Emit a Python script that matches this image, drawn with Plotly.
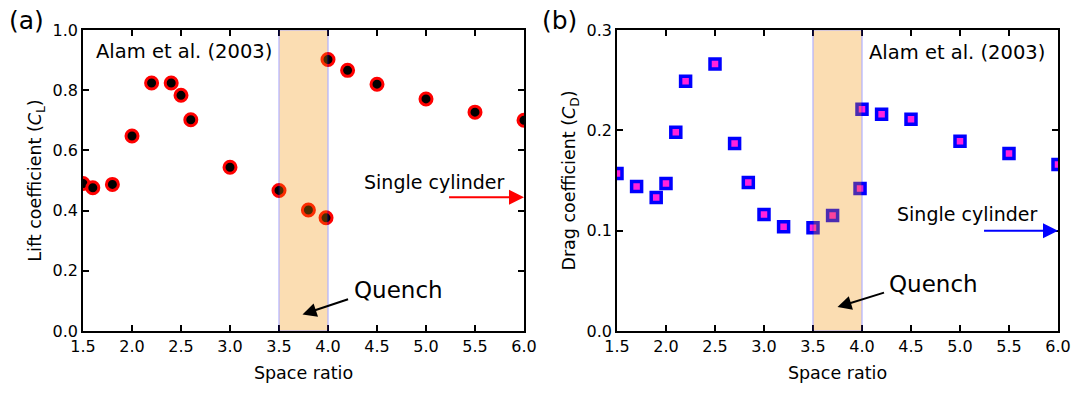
import plotly.graph_objects as go
from plotly.subplots import make_subplots

# ---- data ----
lift_x = [1.5, 1.6, 1.8, 2.0, 2.2, 2.4, 2.5, 2.6, 3.0, 3.5, 3.8, 3.98, 4.0, 4.2, 4.5, 5.0, 5.5, 6.0]
lift_y = [0.49, 0.476, 0.487, 0.648, 0.824, 0.824, 0.783, 0.702, 0.544, 0.467, 0.402, 0.376, 0.902, 0.866, 0.82, 0.771, 0.727, 0.70]

drag_x = [1.5, 1.7, 1.9, 2.0, 2.1, 2.2, 2.5, 2.7, 2.84, 3.0, 3.2, 3.5, 3.7, 3.98, 4.0, 4.2, 4.5, 5.0, 5.5, 6.0]
drag_y = [0.157, 0.144, 0.133, 0.147, 0.198, 0.249, 0.266, 0.187, 0.148, 0.116, 0.104, 0.103, 0.115, 0.142, 0.221, 0.216, 0.211, 0.189, 0.177, 0.166]

x_ticks = [1.5, 2.0, 2.5, 3.0, 3.5, 4.0, 4.5, 5.0, 5.5, 6.0]
lift_ticks = [0.0, 0.2, 0.4, 0.6, 0.8, 1.0]
drag_ticks = [0.0, 0.1, 0.2, 0.3]
quench_range = [3.5, 4.0]

FONT = "DejaVu Sans, Verdana, sans-serif"
W, H = 1074, 395

fig = make_subplots(rows=1, cols=2)

fig.add_trace(go.Scatter(
    x=lift_x, y=lift_y, mode="markers",
    marker=dict(symbol="circle", size=12, color="black", line=dict(color="#FF0000", width=3)),
    showlegend=False), row=1, col=1)

fig.add_trace(go.Scatter(
    x=drag_x, y=drag_y, mode="markers",
    marker=dict(symbol="square", size=10, color="#FF22DD", line=dict(color="#0000FF", width=3.5)),
    showlegend=False), row=1, col=2)

# quench bands (drawn above the markers, semi-transparent)
for xr, yr, ytop in (("x", "y", 1.0), ("x2", "y2", 0.3)):
    fig.add_shape(type="rect", xref=xr, yref=yr, x0=quench_range[0], x1=quench_range[1],
                  y0=0, y1=ytop, fillcolor="rgb(245,145,5)",
                  line=dict(color="#0000FF", width=1.2), opacity=0.3, layer="above")

axis_common = dict(showline=True, linecolor="black", linewidth=1.5, mirror="ticks",
                   ticks="inside", ticklen=6, tickwidth=1.5, tickcolor="black",
                   showgrid=False, zeroline=False, ticklabeloverflow="allow",
                   tickfont=dict(family=FONT, size=16, color="black"), automargin=False)

x_dom1 = [83 / W, 524 / W]
x_dom2 = [617 / W, 1058 / W]
y_dom = [(H - 331) / H, (H - 30) / H]
title_font = dict(family=FONT, size=17.5, color="black")

fig.update_layout(
    width=W, height=H, template="none",
    paper_bgcolor="white", plot_bgcolor="white",
    margin=dict(l=0, r=0, t=0, b=0),
    font=dict(family=FONT, size=17, color="black"),
    xaxis=dict(axis_common, domain=x_dom1, range=[1.5, 6.0], tickvals=x_ticks,
               ticktext=[f"{v:.1f}" for v in x_ticks],
               title=dict(text="Space ratio", font=title_font, standoff=12)),
    xaxis2=dict(axis_common, domain=x_dom2, range=[1.5, 6.0], tickvals=x_ticks,
                ticktext=[f"{v:.1f}" for v in x_ticks],
                title=dict(text="Space ratio", font=title_font, standoff=12)),
    yaxis=dict(axis_common, domain=y_dom, range=[0, 1.0], tickvals=lift_ticks,
               ticktext=[f"{v:.1f}" for v in lift_ticks],
               title=dict(text="Lift coefficient (<i>C</i><sub>L</sub>)", font=title_font, standoff=6)),
    yaxis2=dict(axis_common, domain=y_dom, range=[0, 0.3], tickvals=drag_ticks,
                ticktext=[f"{v:.1f}" for v in drag_ticks],
                title=dict(text="Drag coefficient (<i>C</i><sub>D</sub>)", font=title_font, standoff=6)),
)

ann = []
# panel labels
ann.append(dict(xref="paper", yref="paper", x=26 / W, y=1 - 21 / H, text="(a)",
                showarrow=False, font=dict(family=FONT, size=25), xanchor="center", yanchor="middle"))
ann.append(dict(xref="paper", yref="paper", x=559 / W, y=1 - 21 / H, text="(b)",
                showarrow=False, font=dict(family=FONT, size=25), xanchor="center", yanchor="middle"))
# Alam et al.
ann.append(dict(xref="x", yref="y", x=1.61, y=0.928, text="Alam et al. (2003)", showarrow=False,
                xanchor="left", yanchor="middle", font=dict(family=FONT, size=19.5)))
ann.append(dict(xref="x2", yref="y2", x=5.89, y=0.278, text="Alam et al. (2003)", showarrow=False,
                xanchor="right", yanchor="middle", font=dict(family=FONT, size=19.5)))
# Single cylinder
ann.append(dict(xref="x", yref="y", x=5.08, y=0.494, text="Single cylinder", showarrow=False,
                xanchor="center", yanchor="middle", font=dict(family=FONT, size=19)))
ann.append(dict(xref="x2", yref="y2", x=5.07, y=0.1166, text="Single cylinder", showarrow=False,
                xanchor="center", yanchor="middle", font=dict(family=FONT, size=19)))
# single cylinder arrows
ann.append(dict(xref="x", yref="y", axref="x", ayref="y", x=6.0, y=0.444, ax=5.22, ay=0.444,
                text="", showarrow=True, arrowhead=2, arrowsize=1.5, arrowwidth=2, arrowcolor="#FF0000"))
ann.append(dict(xref="x2", yref="y2", axref="x2", ayref="y2", x=6.0, y=0.1, ax=5.23, ay=0.1,
                text="", showarrow=True, arrowhead=2, arrowsize=1.5, arrowwidth=2, arrowcolor="#0000FF"))
# Quench
ann.append(dict(xref="x", yref="y", x=4.24, y=0.135, text="Quench", showarrow=False,
                xanchor="left", yanchor="middle", font=dict(family=FONT, size=23)))
ann.append(dict(xref="x2", yref="y2", x=4.25, y=0.047, text="Quench", showarrow=False,
                xanchor="left", yanchor="middle", font=dict(family=FONT, size=23)))
ann.append(dict(xref="x", yref="y", axref="x", ayref="y", x=3.74, y=0.055, ax=4.22, ay=0.107,
                text="", showarrow=True, arrowhead=2, arrowsize=1.4, arrowwidth=2, arrowcolor="black"))
ann.append(dict(xref="x2", yref="y2", axref="x2", ayref="y2", x=3.75, y=0.0238, ax=4.24, ay=0.0387,
                text="", showarrow=True, arrowhead=2, arrowsize=1.4, arrowwidth=2, arrowcolor="black"))

fig.update_layout(annotations=ann)

fig.write_html("out.html", config={"displayModeBar": False},
               post_script="document.body.style.margin='0px';document.body.style.overflow='hidden';")
